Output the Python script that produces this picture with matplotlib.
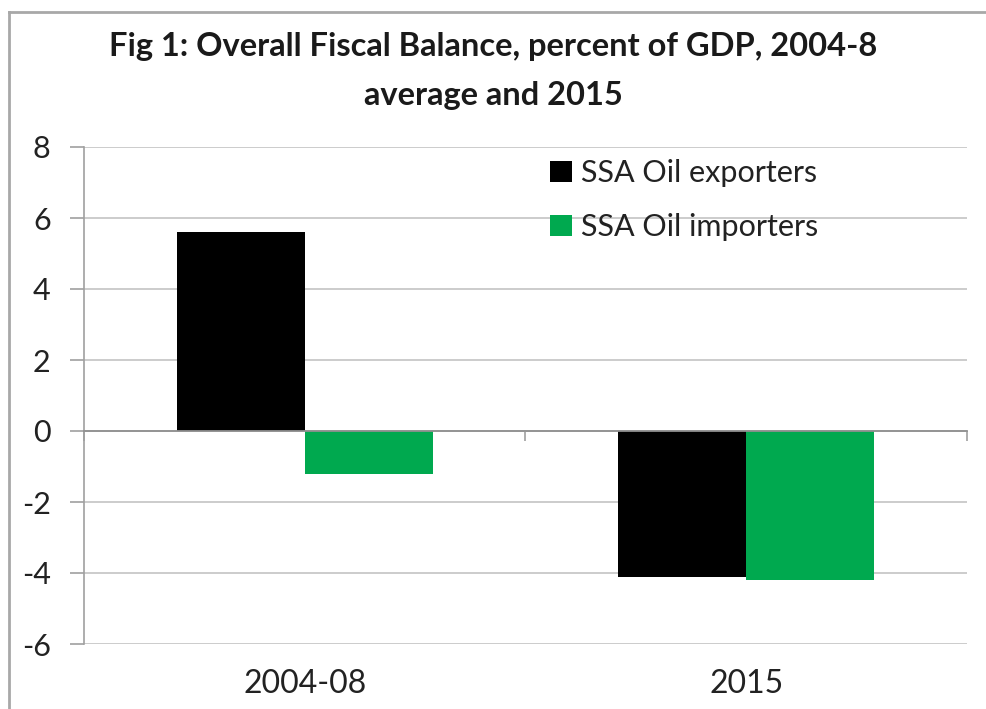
import matplotlib
matplotlib.use("Agg")
import matplotlib.pyplot as plt
from matplotlib.lines import Line2D
from matplotlib.patches import Patch
import numpy as np

categories = ["2004-08", "2015"]
series_names = ["SSA Oil exporters", "SSA Oil importers"]
exporters = [5.6, -4.1]
importers = [-1.2, -4.2]
yticks = [-6, -4, -2, 0, 2, 4, 6, 8]
title = "Fig 1: Overall Fiscal Balance, percent of GDP, 2004-8\naverage and 2015"

colors = ["#000000", "#00A94F"]
font = "Lato"
plt.rcParams['font.family'] = [font, 'DejaVu Sans']

W, H = 987, 709
fig = plt.figure(figsize=(W / 100, H / 100), dpi=100)
ax = fig.add_axes([84 / W, 1 - 644 / H, (967 - 84) / W, (644 - 147) / H])

x = np.arange(len(categories))
bw = 0.29
ax.bar(x - bw / 2, exporters, bw, color=colors[0], zorder=3)
ax.bar(x + bw / 2, importers, bw, color=colors[1], zorder=3)

ax.set_xlim(-0.5, len(categories) - 0.5)
ax.set_ylim(-6, 8)
ax.set_yticks(yticks)
ax.set_yticklabels([str(v) for v in yticks], fontsize=22, color="#222222")
ax.tick_params(axis="y", length=10, width=1.2, color="#A0A0A0", pad=14)
ax.yaxis.grid(True, color="#C8C8C8", linewidth=1.3, zorder=0)

for s in ["top", "right"]:
    ax.spines[s].set_visible(False)
ax.spines["left"].set_color("#A0A0A0")
ax.spines["left"].set_linewidth(1.2)
ax.spines["bottom"].set_position(("data", 0))
ax.spines["bottom"].set_color("#909090")
ax.spines["bottom"].set_linewidth(1.3)
ax.spines["bottom"].set_zorder(4)
ax.set_xticks(np.arange(-0.5, len(categories), 1.0))
ax.set_xticklabels([])
ax.tick_params(axis="x", length=7, width=1.2, color="#A0A0A0", direction="out")

sec = ax.secondary_xaxis("bottom")
sec.set_xticks(x)
sec.set_xticklabels(categories, fontsize=23, color="#222222")
sec.tick_params(length=0, pad=18)
sec.spines["bottom"].set_visible(False)

fig.text(0.5, 1 - 71 / H, title, ha="center", va="center", fontsize=23.5,
         fontweight="bold", linespacing=1.8, color="#1a1a1a")

handles = [Patch(facecolor=c, edgecolor="none") for c in colors]
leg = ax.legend(handles, series_names, loc="upper left",
                bbox_to_anchor=((532 - 84) / (967 - 84), 1 - (141 - 147) / (644 - 147)),
                frameon=False, fontsize=22, handlelength=0.7, handleheight=0.7,
                handletextpad=0.3, labelspacing=0.85, labelcolor="#222222",
                borderaxespad=0.2)

# outer chart frame (left and top edges visible)
fig.add_artist(Line2D([9 / W, 9 / W], [0, 1 - 12 / H], transform=fig.transFigure,
                      color="#A8A8A8", linewidth=2))
fig.add_artist(Line2D([9 / W, 1], [1 - 12 / H, 1 - 12 / H], transform=fig.transFigure,
                      color="#A8A8A8", linewidth=2))

fig.savefig("out.png", dpi=100, facecolor="white")
